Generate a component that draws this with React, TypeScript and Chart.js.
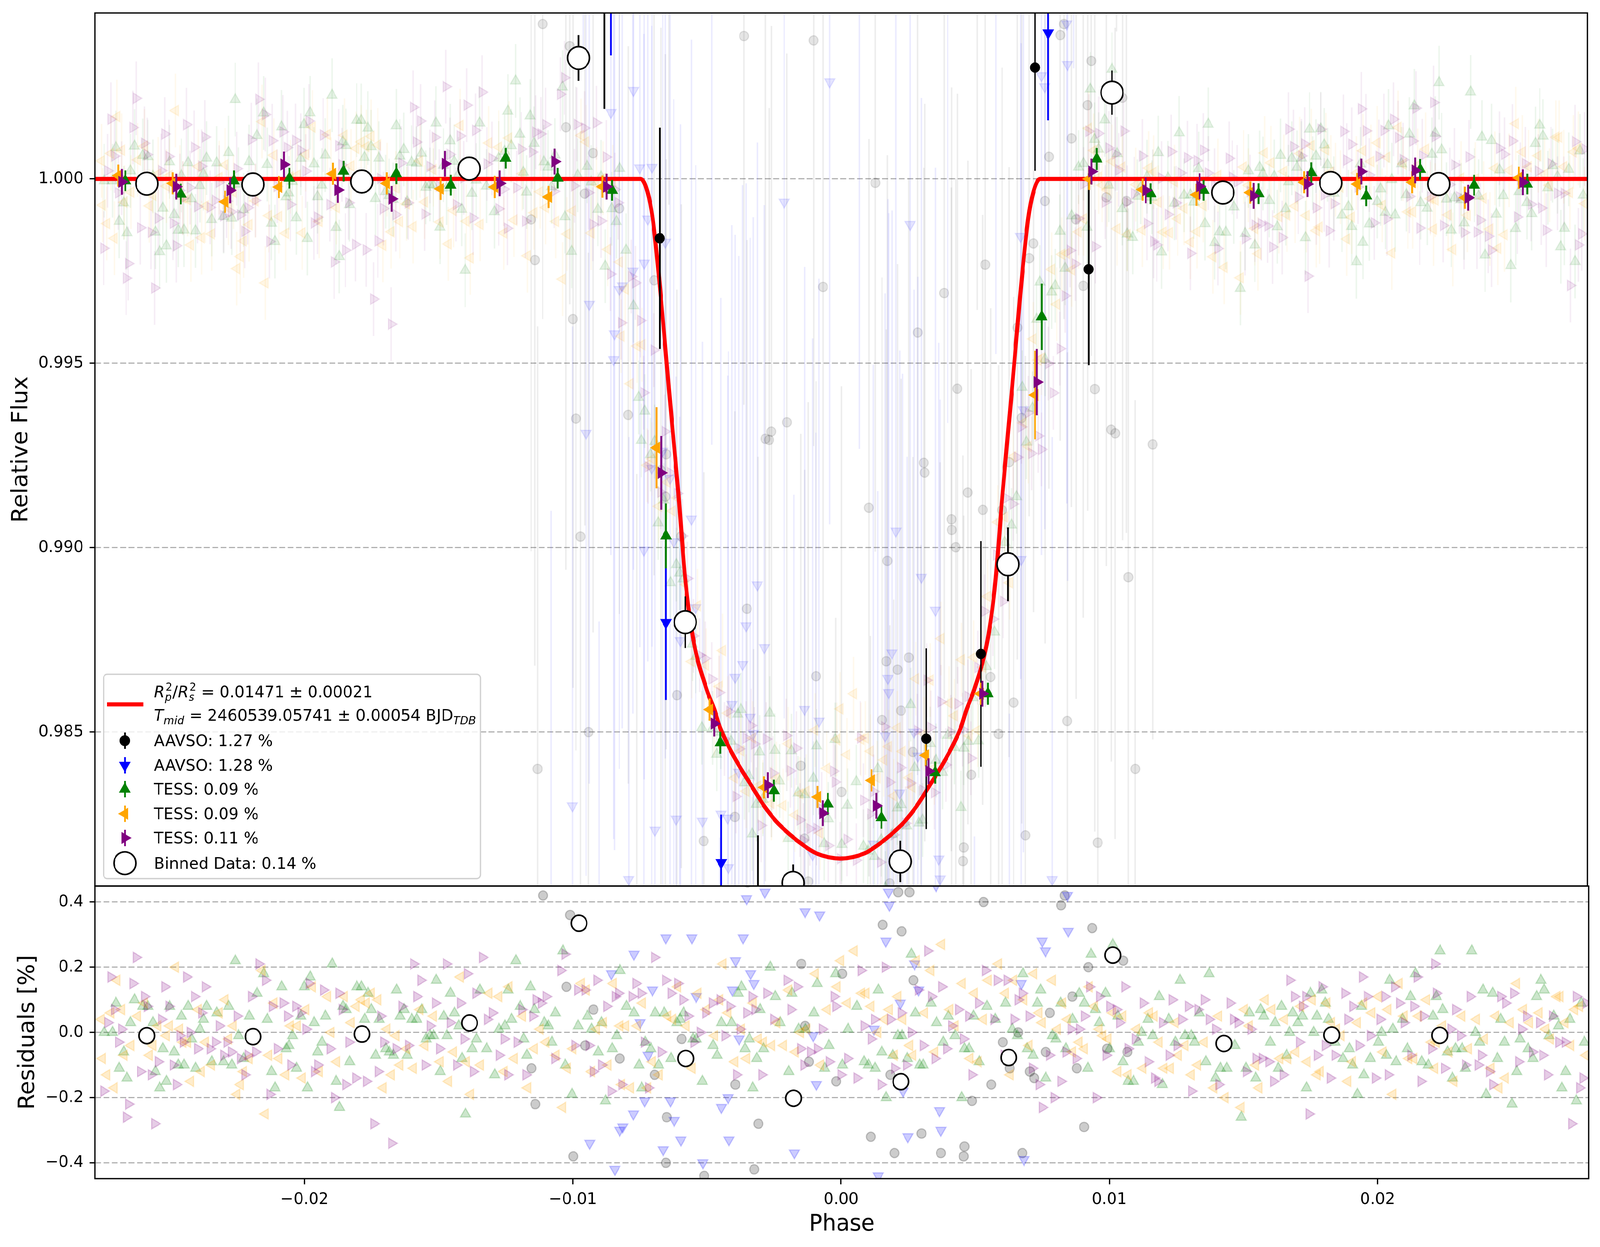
import React, { useEffect, useRef } from "react";
import { Chart, registerables } from "chart.js";

Chart.register(...registerables);

// ---- axes ----
const phaseTicks = [-0.02, -0.01, 0, 0.01, 0.02];
const fluxTicks = [0.985, 0.99, 0.995, 1.0];
const residTicks = [-0.4, -0.2, 0, 0.2, 0.4];
const phaseMin = -0.02781;
const phaseMax = 0.02787;
const fluxMin = 0.980825;
const fluxMax = 1.0045;
const residMin = -0.4484;
const residMax = 0.449;

// ---- fitted transit model (phase, relative flux) ----
const modelPhase = [
  -0.0278, -0.00745, -0.0072, -0.007, -0.0067, -0.0064, -0.00605, -0.00578, -0.0055, -0.005, -0.0047,
  -0.0045, -0.0042, -0.0038, -0.0033, -0.00285, -0.0024, -0.0019, -0.0014, -0.0009, 0, 0.0009, 0.0014,
  0.0019, 0.0024, 0.00285, 0.0033, 0.0038, 0.0042, 0.0045, 0.0047, 0.005, 0.0055, 0.00578, 0.00605,
  0.0064, 0.0067, 0.007, 0.0072, 0.00745, 0.0279,
];
const modelFlux = [
  1.0, 1.0, 0.99965, 0.9989, 0.9968, 0.9943, 0.9915, 0.98907, 0.98755, 0.98617, 0.9856, 0.98514, 0.98465,
  0.98411, 0.98352, 0.983, 0.98258, 0.98223, 0.98194, 0.98171, 0.98157, 0.98171, 0.98194, 0.98223, 0.98258,
  0.983, 0.98352, 0.98411, 0.98465, 0.98514, 0.9856, 0.98617, 0.98755, 0.98907, 0.9915, 0.9943, 0.9968,
  0.9989, 0.99965, 1.0, 1.0,
];

// ---- per-dataset binned points [phase, flux, error] ----
const aavsoBlackBin = [
  [-0.00881, 1.0052, 0.0033], [-0.00674, 0.99839, 0.003], [-0.00308, 0.9797, 0.0025],
  [0.0032, 0.98482, 0.00245], [0.00524, 0.98712, 0.00306], [0.00726, 1.00302, 0.0028], [0.00926, 0.99755, 0.0026],
];
const aavsoBlueBin = [
  [-0.00856, 1.006, 0.00265], [-0.00651, 0.98797, 0.0021], [-0.00445, 0.98146, 0.0013], [0.00775, 1.00396, 0.00237],
];
const tessGreenBin = [
  [-0.02668, 0.99995, 0.00028], [-0.02461, 0.99959, 0.00028], [-0.02263, 0.99995, 0.00028], [-0.02056, 1.00002, 0.00028],
  [-0.01854, 1.00021, 0.00028], [-0.01657, 1.00014, 0.00028], [-0.01454, 0.99983, 0.00028], [-0.01249, 1.00056, 0.00028],
  [-0.01055, 1.00002, 0.00028], [-0.00852, 0.99969, 0.00028], [-0.00651, 0.99032, 0.00088], [-0.00448, 0.98471, 0.0003],
  [-0.00248, 0.98341, 0.0003], [-0.00047, 0.98305, 0.0003], [0.00153, 0.98268, 0.0003], [0.00353, 0.9839, 0.0003],
  [0.0055, 0.98604, 0.0003], [0.00751, 0.99626, 0.0009], [0.00956, 1.00054, 0.0003], [0.01157, 0.9996, 0.00028],
  [0.01355, 0.99969, 0.00028], [0.0156, 0.9996, 0.00028], [0.01757, 1.00017, 0.00028], [0.01962, 0.99954, 0.00028],
  [0.02163, 1.00026, 0.00028], [0.02364, 0.99983, 0.00028], [0.02562, 0.99986, 0.00028],
];
const tessOrangeBin = [
  [-0.02694, 1.00009, 0.0003], [-0.02491, 0.99988, 0.0003], [-0.02296, 0.99938, 0.0003], [-0.02095, 0.99978, 0.0003],
  [-0.01894, 1.00014, 0.0003], [-0.01693, 0.99988, 0.0003], [-0.01492, 0.99973, 0.0003], [-0.0129, 0.99978, 0.0003],
  [-0.01089, 0.99951, 0.0003], [-0.00888, 0.99979, 0.0003], [-0.00686, 0.99271, 0.0011], [-0.00488, 0.98561, 0.0003],
  [-0.00285, 0.9835, 0.0003], [-0.00085, 0.98324, 0.0003], [0.00116, 0.98369, 0.0003], [0.00318, 0.98437, 0.0003],
  [0.00523, 0.98604, 0.0003], [0.00726, 0.99414, 0.0012], [0.00927, 1.0, 0.0003], [0.01127, 0.99971, 0.0003],
  [0.01328, 0.99957, 0.0003], [0.01529, 0.99963, 0.0003], [0.0173, 0.99991, 0.0003], [0.01928, 0.99986, 0.0003],
  [0.02133, 0.99991, 0.0003], [0.0233, 0.99949, 0.0003], [0.02531, 1.00003, 0.0003],
];
const tessPurpleBin = [
  [-0.02681, 0.99992, 0.00035], [-0.02478, 0.99979, 0.00035], [-0.02277, 0.99969, 0.00035], [-0.02076, 1.00039, 0.00035],
  [-0.01875, 0.9997, 0.00035], [-0.01674, 0.99946, 0.00035], [-0.01475, 1.00041, 0.00035], [-0.01271, 0.99988, 0.00035],
  [-0.01066, 1.00047, 0.00035], [-0.00873, 0.99979, 0.00035], [-0.00669, 0.99203, 0.001], [-0.00471, 0.98523, 0.00035],
  [-0.00271, 0.98356, 0.00035], [-0.00066, 0.9828, 0.00035], [0.00134, 0.983, 0.00035], [0.00329, 0.98394, 0.00035],
  [0.0053, 0.98604, 0.00035], [0.00733, 0.99449, 0.0009], [0.00937, 1.0002, 0.00035], [0.01139, 0.99969, 0.00035],
  [0.0134, 0.9998, 0.00035], [0.01541, 0.99954, 0.00035], [0.01742, 0.99986, 0.00035], [0.01943, 1.0002, 0.00035],
  [0.02144, 1.00023, 0.00035], [0.02342, 0.99949, 0.00035], [0.02546, 0.99991, 0.00035],
];

// ---- all-data bins ----
const binnedPhase = [-0.02588, -0.02192, -0.01786, -0.01385, -0.00977, -0.00579, -0.00177, 0.00223, 0.00625, 0.01013, 0.01427, 0.01829, 0.02232];
const binnedFlux = [0.99987, 0.99985, 0.99993, 1.00028, 1.00328, 0.98798, 0.98091, 0.98149, 0.98955, 1.00234, 0.99963, 0.99989, 0.99986];
const binnedErr = [0.0001, 0.0001, 0.0001, 0.0001, 0.00062, 0.0007, 0.0005, 0.00056, 0.001, 0.0006, 0.0001, 0.0001, 0.0001];
const binnedResid = [-0.01, -0.013, -0.005, 0.029, 0.335, -0.08, -0.202, -0.151, -0.077, 0.237, -0.034, -0.008, -0.009];

// ---- raw TESS residuals [phase x 1e4, residual %] ----
const tessRawErr = 0.1; // % per point
const tessGreenRes = [
  [-274.7,0.00],[-271.6,0.00],[-270.3,0.09],[-269.1,-0.11],[-267.4,-0.06],[-266.2,-0.14],[-264.9,0.03],[-263.4,0.10],[-260.3,0.08],[-258.4,0.08],
  [-256.5,0.03],[-255.6,-0.12],[-254.0,-0.17],[-252.8,-0.05],[-251.5,-0.15],[-250.3,0.08],[-248.6,-0.06],[-247.1,-0.10],[-245.9,0.05],[-244.9,-0.10],
  [-243.4,0.08],[-242.1,-0.02],[-240.6,-0.11],[-239.0,0.01],[-237.7,0.04],[-236.5,0.08],[-234.6,-0.09],[-232.7,0.06],[-230.2,-0.09],[-228.3,0.08],
  [-227.1,-0.10],[-225.8,0.22],[-224.6,-0.01],[-222.7,-0.08],[-220.6,0.05],[-217.7,0.12],[-215.2,0.18],[-213.9,0.04],[-212.3,-0.12],[-211.0,-0.17],
  [-208.5,0.14],[-206.8,-0.05],[-205.8,-0.04],[-204.5,-0.01],[-203.0,-0.11],[-201.4,0.05],[-200.1,0.14],[-198.9,-0.17],[-197.9,0.17],[-196.4,0.03],
  [-195.1,-0.06],[-193.5,-0.03],[-192.2,0.05],[-189.7,0.21],[-188.2,-0.15],[-187.0,-0.23],[-185.7,0.08],[-184.5,0.07],[-183.2,-0.09],[-180.5,0.14],
  [-178.8,0.14],[-177.6,0.04],[-176.3,0.12],[-175.1,0.07],[-173.5,-0.07],[-172.2,0.04],[-169.7,-0.05],[-168.4,-0.06],[-166.9,-0.07],[-165.7,0.13],
  [-164.4,0.05],[-162.9,0.07],[-161.7,-0.07],[-160.0,0.04],[-158.2,0.04],[-156.3,0.07],[-154.7,-0.02],[-153.2,-0.01],[-151.9,-0.01],[-150.9,0.16],
  [-149.4,-0.12],[-148.1,0.05],[-146.9,-0.01],[-145.6,0.12],[-144.1,0.06],[-142.5,0.02],[-141.3,-0.08],[-140.0,-0.25],[-137.5,-0.05],[-135.9,-0.02],
  [-134.6,0.13],[-132.1,-0.05],[-129.1,-0.13],[-127.5,0.01],[-125.3,0.02],[-124.1,0.13],[-122.8,0.04],[-121.2,0.22],[-119.6,0.08],[-118.3,-0.02],
  [-117.1,-0.07],[-115.8,0.14],[-114.3,0.07],[-110.6,0.03],[-109.1,0.02],[-107.8,-0.03],[-106.5,0.06],[-103.7,0.25],[-102.8,-0.10],[-100.3,-0.19],
  [-98.0,0.02],[-94.5,0.05],[-93.0,0.01],[-90.5,-0.06],[-89.3,0.03],[-87.8,-0.21],[-85.3,-0.05],[-83.6,-0.01],[-82.4,0.19],
  [-80.0,0.08],[-77.2,0.06],[-75.3,-0.10],[-74.3,-0.17],[-73.0,-0.03],[-70.9,-0.05],[-69.3,0.06],[-68.0,-0.10],[-65.9,0.06],[-63.4,-0.08],
  [-61.2,0.03],[-60.0,0.04],[-58.7,0.06],[-55.2,-0.02],[-54.0,-0.02],[-51.7,-0.15],[-47.7,-0.04],[-46.2,-0.07],[-44.6,0.03],[-40.8,0.03],
  [-38.3,0.12],[-37.1,0.14],[-35.8,-0.05],[-34.2,-0.02],[-32.9,-0.17],[-31.4,-0.08],[-30.2,0.07],[-28.9,-0.05],[-26.4,0.20],[-24.5,0.11],
  [-22.7,0.03],[-19.5,-0.12],[-18.3,0.12],[-15.8,0.01],[-13.3,0.01],[-10.1,0.06],[-8.9,0.15],[-6.1,-0.11],[-4.5,-0.04],[-2.0,0.18],
  [0.5,-0.10],[2.6,0.01],[5.9,0.08],[8.6,-0.09],[10.2,-0.10],[12.7,-0.11],[13.9,0.13],[15.2,-0.06],[16.8,-0.20],[19.3,-0.07],
  [21.2,-0.01],[22.7,-0.01],[24.7,-0.08],[26.2,0.24],[27.7,0.06],[29.3,-0.10],[30.6,-0.10],[33.5,0.09],[35.6,0.03],[38.1,-0.03],
  [40.0,0.05],[42.5,-0.01],[45.0,-0.20],[46.0,-0.05],[47.7,-0.05],[49.4,0.05],[51.5,-0.09],[54.4,0.08],[57.5,0.04],[61.3,0.09],
  [63.8,0.01],[65.7,-0.01],[67.8,0.18],[69.4,-0.05],[71.6,-0.07],[73.2,0.09],[74.4,0.13],[76.3,-0.14],[78.8,-0.01],[80.1,-0.02],
  [81.9,0.09],[83.8,-0.05],[86.3,0.04],[88.8,0.12],[90.7,0.09],[92.0,-0.11],[93.2,0.24],[94.8,0.07],[96.3,0.03],[98.6,0.12],
  [100.1,-0.05],[101.3,0.27],[103.2,0.05],[105.1,-0.09],[107.0,-0.15],
  [109.0,-0.15],[110.8,-0.03],[112.0,0.00],[114.4,0.04],[116.2,-0.01],[118.6,0.11],[119.8,-0.16],[122.2,0.04],[124.6,-0.03],[126.4,0.16],
  [128.2,-0.01],[130.6,-0.01],[131.8,-0.03],[133.6,0.06],[136.0,-0.09],[137.2,0.18],[139.6,-0.14],[141.4,-0.11],[143.8,-0.11],[146.8,-0.04],
  [149.2,-0.26],[151.0,-0.11],[152.2,0.06],[154.6,-0.14],[156.4,0.07],[157.6,0.05],[160.0,-0.03],[161.8,0.03],[163.0,-0.11],[164.2,0.08],
  [166.1,-0.07],[167.2,0.00],[168.4,0.06],[170.3,0.03],[172.0,0.05],[173.5,-0.17],[175.0,0.12],[176.2,0.00],[177.4,0.05],[179.2,0.13],
  [180.5,0.09],[181.7,0.04],[184.1,-0.03],[187.1,-0.08],[189.5,-0.05],[190.7,-0.10],[192.5,-0.19],[194.0,0.08],[194.9,-0.13],[197.3,-0.08],
  [200.3,-0.03],[201.5,0.00],[203.3,-0.07],[204.5,0.16],[205.7,0.01],[206.9,-0.09],[209.3,0.04],[211.1,-0.05],[212.3,0.11],[214.1,0.18],
  [216.5,-0.09],[218.9,-0.10],[220.7,0.05],[221.9,0.11],[223.3,0.25],[224.3,0.07],[226.1,-0.06],[227.9,-0.14],[229.1,-0.05],[231.5,-0.05],
  [232.7,-0.11],[235.1,0.25],[236.5,0.00],[238.1,-0.03],[239.3,0.13],[240.5,-0.19],[242.9,0.12],[244.7,-0.08],[245.9,0.04],[247.3,-0.03],
  [250.1,-0.22],[251.9,-0.12],[253.1,-0.02],[256.1,-0.05],[257.9,-0.08],[259.3,0.11],[260.9,0.16],[262.1,0.13],[263.9,-0.01],[265.7,0.05],
  [267.5,0.02],[268.7,-0.17],[270.1,-0.12],[271.7,0.04],[274.1,-0.21],[275.9,0.09],[277.1,-0.03],
];
const tessOrangeRes = [
  [-275.7,0.04],[-275.3,-0.08],[-273.7,-0.13],[-272.2,0.06],[-270.9,-0.17],[-269.9,0.16],[-268.2,0.07],[-267.2,-0.07],[-264.7,-0.04],[-262.2,0.05],
  [-259.7,0.09],[-257.8,-0.07],[-256.5,-0.04],[-254.6,0.02],[-251.5,-0.01],[-250.3,0.02],[-248.1,0.20],[-246.5,0.01],[-245.3,-0.03],[-243.6,-0.03],
  [-242.4,-0.15],[-239.6,0.07],[-238.4,-0.12],[-236.9,-0.03],[-234.6,-0.10],[-231.8,0.06],[-229.6,0.10],[-228.3,-0.02],[-226.5,0.02],[-225.2,-0.19],
  [-223.9,-0.16],[-222.7,-0.12],[-220.6,-0.08],[-218.3,-0.02],[-215.8,0.19],[-214.6,-0.25],[-213.3,-0.07],[-211.4,0.09],[-209.5,-0.08],[-207.0,-0.13],
  [-205.2,0.02],[-202.7,0.02],[-200.8,-0.14],[-199.5,0.07],[-197.0,0.14],[-194.5,-0.12],[-191.4,0.11],[-190.1,0.00],[-188.0,-0.09],[-185.1,0.11],
  [-182.6,0.03],[-180.7,0.08],[-178.8,0.10],[-176.9,0.09],[-175.1,0.12],[-172.6,0.10],[-170.7,-0.17],[-169.2,0.01],[-167.6,-0.13],[-165.9,-0.01],
  [-164.4,-0.10],[-161.9,-0.05],[-159.4,-0.11],[-156.9,0.07],[-155.1,-0.04],[-151.9,0.05],[-149.4,-0.09],[-146.3,-0.15],[-144.4,-0.06],[-141.9,0.17],
  [-139.6,-0.09],[-138.1,-0.19],[-134.4,-0.10],[-131.2,0.12],[-127.5,0.11],[-125.6,-0.12],[-123.7,0.14],[-121.8,-0.08],[-118.7,0.05],[-116.8,-0.17],
  [-114.3,-0.05],[-112.1,0.01],[-110.0,-0.03],[-106.2,-0.07],[-103.7,-0.23],[-102.0,-0.11],[-99.9,-0.05],[-96.8,0.15],[-94.9,0.13],[-93.0,-0.12],
  [-91.1,0.01],[-88.6,0.03],[-86.8,-0.10],[-84.9,0.15],[-82.4,0.02],[-81.8,-0.16],
  [-80.3,0.02],[-78.4,-0.17],[-75.9,0.02],[-74.0,0.09],[-72.1,-0.17],[-70.3,-0.09],[-67.8,-0.13],[-64.6,0.05],[-62.7,0.04],[-60.9,0.14],
  [-57.7,0.02],[-55.5,-0.11],[-53.3,0.12],[-50.2,0.07],[-47.1,-0.01],[-45.2,0.10],[-44.0,0.21],[-42.1,0.06],[-39.6,-0.09],[-37.1,0.01],
  [-35.2,-0.08],[-32.7,0.09],[-30.8,-0.02],[-28.9,-0.03],[-25.8,-0.04],[-23.9,0.03],[-21.4,-0.04],[-19.5,0.13],[-17.0,-0.06],[-15.1,0.00],
  [-12.7,0.01],[-9.5,0.18],[-7.6,-0.10],[-5.1,0.07],[-1.4,0.14],[-0.1,0.22],[2.4,0.09],[4.9,0.25],[7.7,0.12],[9.3,0.12],
  [11.2,0.08],[13.7,0.00],[16.2,0.04],[18.0,0.07],[19.9,-0.07],[21.2,0.11],[23.1,0.04],[25.6,-0.04],[26.8,-0.07],[28.1,0.22],
  [31.2,0.06],[33.5,0.19],[35.0,-0.06],[37.5,0.27],[40.6,0.07],[42.5,0.02],[45.2,0.15],[48.1,-0.08],[49.7,0.12],[51.2,-0.09],
  [53.1,0.04],[54.9,0.16],[58.7,0.21],[61.3,0.12],[63.1,-0.13],[64.4,0.16],[68.2,0.10],[70.1,-0.04],[71.9,0.18],[73.8,0.06],
  [75.0,0.03],[78.8,0.16],[80.7,0.01],[82.6,0.09],[84.4,0.04],[86.3,-0.06],[88.8,-0.03],[90.7,-0.05],[92.6,0.14],[94.5,0.08],
  [96.3,0.01],[97.6,-0.01],[99.5,-0.02],[101.3,0.06],[103.2,-0.12],[105.1,0.05],[107.0,-0.13],
  [110.2,0.01],[112.6,-0.11],[115.0,0.06],[116.8,0.05],[118.6,-0.03],[120.4,-0.11],[122.8,-0.11],[124.6,0.03],[125.8,-0.07],[128.2,-0.04],
  [130.6,-0.13],[133.0,-0.10],[135.4,-0.03],[139.0,-0.17],[140.8,0.05],[143.2,-0.20],[149.2,-0.23],[150.4,0.07],[152.2,0.02],[154.6,-0.10],
  [155.8,-0.17],[158.2,0.10],[160.6,0.07],[163.6,-0.08],[165.4,0.04],[166.6,-0.08],[169.6,-0.06],[171.4,0.08],[173.8,-0.09],[175.7,0.10],
  [177.5,-0.13],[178.7,-0.12],[181.1,0.09],[182.9,0.03],[184.7,0.01],[186.5,-0.01],[188.9,-0.15],[190.7,-0.09],[192.5,0.03],[194.9,0.09],
  [197.9,0.06],[200.3,0.11],[202.1,-0.06],[203.9,0.07],[205.7,-0.19],[208.1,0.15],[209.9,0.05],[211.7,-0.08],[213.5,-0.08],[215.3,0.05],
  [218.3,0.10],[220.1,-0.03],[221.3,-0.11],[221.9,-0.03],[224.3,0.02],[226.7,-0.06],[228.5,-0.15],[231.5,0.05],[233.9,-0.05],[236.9,0.04],
  [239.9,-0.02],[242.3,-0.11],[244.1,0.05],[245.3,-0.17],[247.7,-0.14],[249.5,0.03],[251.9,0.15],[254.4,0.07],[256.7,0.03],[260.3,0.06],
  [262.7,0.01],[264.5,-0.02],[266.9,0.11],[268.1,0.11],[269.9,0.03],[272.1,-0.04],[273.5,0.07],[275.3,0.08],[277.7,-0.07],
];
const tessPurpleRes = [
  [-274.9,-0.18],[-273.4,0.03],[-272.2,0.17],[-270.9,0.07],[-269.4,-0.03],[-268.2,0.01],[-266.5,-0.26],[-265.7,-0.22],[-264.0,0.15],[-262.8,0.23],
  [-261.2,-0.12],[-259.7,0.11],[-258.7,0.08],[-257.2,-0.13],[-255.9,-0.28],[-254.6,-0.09],[-253.4,0.04],[-252.1,0.14],[-250.6,0.08],[-249.0,-0.10],
  [-247.8,-0.16],[-246.5,-0.01],[-245.3,-0.03],[-244.0,0.17],[-242.7,0.00],[-241.1,0.11],[-239.9,-0.05],[-238.4,0.06],[-237.1,0.14],[-235.2,-0.05],
  [-233.3,-0.03],[-231.8,0.02],[-230.2,-0.07],[-229.0,-0.03],[-227.3,-0.06],[-225.2,0.05],[-223.9,-0.08],[-222.3,-0.13],[-221.1,-0.07],[-219.8,0.11],
  [-218.3,-0.06],[-217.1,0.21],[-214.6,0.16],[-213.0,-0.19],[-212.0,0.08],[-210.2,-0.05],[-208.0,0.09],[-206.4,0.05],[-205.2,-0.10],[-203.3,0.08],
  [-201.4,0.06],[-199.5,0.01],[-198.3,0.15],[-196.4,-0.12],[-195.1,-0.10],[-193.0,0.13],[-190.5,-0.05],[-188.9,-0.20],[-187.2,0.12],[-186.0,0.07],
  [-184.7,-0.16],[-183.5,-0.03],[-181.0,-0.14],[-177.0,-0.15],[-174.2,-0.28],[-172.6,-0.12],[-171.7,0.05],[-170.5,-0.03],[-167.6,-0.34],[-165.9,-0.05],
  [-163.8,0.08],[-161.3,-0.04],[-159.4,0.21],[-158.2,0.11],[-156.7,0.16],[-155.1,-0.10],[-153.2,0.02],[-151.3,0.09],[-149.7,-0.05],[-147.2,0.21],
  [-145.7,0.03],[-143.4,-0.10],[-141.9,0.09],[-140.6,-0.02],[-139.4,0.18],[-137.1,-0.12],[-136.2,0.12],[-133.7,0.23],[-131.9,0.04],[-130.0,0.06],
  [-127.5,-0.07],[-125.6,-0.02],[-124.3,-0.13],[-120.8,-0.03],[-119.1,0.07],[-117.5,-0.13],[-115.0,0.05],[-113.7,0.10],[-111.8,0.09],[-110.0,0.11],
  [-106.8,-0.08],[-104.5,0.19],[-103.0,0.24],[-99.3,-0.04],[-98.3,0.13],[-95.5,0.13],[-94.0,-0.04],[-92.4,-0.12],[-91.1,0.16],[-89.3,-0.10],
  [-87.4,0.08],[-85.8,-0.18],[-84.2,0.11],[-83.0,0.12],[-81.8,-0.16],
  [-78.0,0.11],[-76.5,0.15],[-74.6,0.12],[-73.4,-0.03],[-71.8,-0.17],[-69.6,0.23],[-67.1,-0.06],[-65.5,0.16],[-63.4,0.12],[-60.9,0.15],
  [-59.0,0.10],[-57.1,0.05],[-54.9,-0.03],[-52.5,0.00],[-50.5,0.06],[-48.0,0.09],[-45.2,0.10],[-43.3,-0.01],[-41.5,0.08],[-39.0,-0.13],
  [-37.7,0.01],[-35.2,0.06],[-33.3,0.11],[-32.1,0.07],[-29.6,-0.13],[-27.7,0.12],[-25.2,0.04],[-20.2,0.16],[-18.7,0.07],[-16.4,0.14],
  [-15.1,-0.05],[-13.9,-0.10],[-11.4,-0.06],[-8.9,-0.05],[-7.0,0.01],[-4.5,-0.09],[-2.6,0.11],[-2.0,0.08],[-0.1,-0.13],[2.4,-0.08],
  [5.9,-0.14],[7.4,0.19],[8.6,0.02],[11.2,-0.02],[12.4,0.04],[14.9,-0.16],[16.4,0.20],[18.4,0.04],[19.9,-0.11],[22.4,0.06],
  [24.3,-0.10],[26.2,0.00],[28.7,0.13],[30.6,-0.04],[32.2,0.25],[33.7,0.11],[35.0,-0.08],[37.5,0.14],[39.3,-0.05],[41.2,0.02],
  [43.7,0.07],[45.6,-0.02],[47.5,0.05],[48.7,-0.13],[51.2,0.09],[53.8,0.19],[56.9,0.04],[58.2,0.16],[60.7,-0.07],[61.9,0.16],
  [64.4,0.04],[66.0,0.10],[67.5,0.12],[70.1,0.05],[71.3,-0.11],[73.8,-0.16],[75.0,-0.23],[77.6,-0.07],[79.4,-0.20],[81.9,-0.15],
  [83.8,-0.06],[85.7,0.01],[87.6,-0.08],[88.8,0.01],[90.7,0.05],[92.6,0.14],[95.1,-0.20],[96.3,0.11],[98.8,-0.07],[100.1,0.08],
  [102.6,0.07],[103.8,0.03],[105.7,0.14],[107.0,-0.05],
  [109.6,-0.02],[112.6,0.09],[114.4,-0.09],[116.8,-0.14],[118.0,-0.15],[119.8,0.03],[122.2,-0.07],[123.4,0.10],[125.2,-0.04],[127.0,0.04],
  [129.4,0.08],[130.6,-0.18],[133.0,0.07],[135.4,0.10],[137.2,0.04],[139.6,0.01],[140.8,-0.16],[145.0,0.09],[146.2,0.04],[148.0,0.03],
  [151.0,-0.12],[152.8,0.01],[154.6,-0.08],[157.0,-0.08],[159.4,-0.09],[161.2,-0.15],[164.8,-0.13],[167.2,0.16],[169.0,0.11],[170.8,-0.03],
  [172.0,0.08],[173.2,0.11],[174.4,-0.25],[177.5,-0.07],[179.2,0.14],[180.5,-0.04],[182.3,-0.14],[184.1,-0.07],[187.7,0.12],[188.9,0.04],
  [190.7,0.08],[193.1,-0.04],[194.3,0.17],[196.1,0.11],[197.3,-0.01],[199.1,-0.14],[200.9,0.04],[202.7,0.11],[203.9,-0.13],[206.3,0.14],
  [208.1,0.09],[209.9,0.03],[212.3,-0.07],[213.5,0.08],[214.7,0.17],[216.1,-0.15],[217.1,0.05],[220.1,-0.05],[221.3,0.21],[221.9,0.12],
  [224.9,-0.11],[227.3,0.01],[229.1,0.07],[230.9,-0.01],[232.7,-0.10],[234.5,0.11],[237.5,-0.10],[238.7,-0.07],[241.7,-0.12],[242.9,-0.16],
  [245.9,0.11],[247.7,0.09],[250.7,0.12],[252.5,-0.09],[253.7,0.01],[255.5,0.05],[257.7,-0.06],[260.3,0.03],[261.5,-0.07],[263.3,-0.13],
  [265.1,0.05],[267.5,-0.03],[269.9,-0.03],[272.3,-0.28],[274.1,0.11],[275.3,-0.17],[276.5,-0.14],[277.7,0.09],
];

// ---- raw AAVSO residuals [phase x 1e4, residual %, error %] ----
const aavsoBlackRes = [
  [-115.4,-0.11,0.9],[-114.0,-0.22,1.1],[-111.1,0.42,0.8],[-102.4,0.14,1.2],[-101.0,0.36,0.7],[-99.8,-0.38,1.0],[-95.4,-0.04,0.9],
  [-92.3,0.07,1.3],[-82.5,-0.08,1.1],[-69.5,-0.13,0.8],[-65.3,-0.40,1.2],[-59.4,-0.02,0.9],[-51.0,-0.44,1.0],[-39.4,-0.16,1.1],
  [-32.4,-0.42,0.8],[-30.8,-0.28,1.2],[-14.8,0.21,0.9],[-13.4,0.02,1.0],[-12.0,-0.09,1.3],[-1.8,-0.15,0.8],[0.4,0.18,1.1],
  [11.1,-0.32,0.9],[15.5,0.33,1.2],[18.4,-0.13,0.7],[19.9,-0.37,1.0],[21.3,0.43,1.1],[22.6,0.31,0.9],[25.5,0.43,1.3],
  [27.0,0.16,0.8],[30.0,-0.31,1.0],[37.2,-0.37,1.2],[46.0,-0.35,0.9],[48.8,-0.21,1.1],[53.1,0.40,0.8],[56.0,-0.16,1.0],
  [60.3,-0.03,1.2],[66.0,0.00,0.9],[67.6,-0.37,1.1],[70.4,-0.12,0.7],[72.0,-0.14,1.0],[76.3,-0.06,1.2],[77.8,0.06,0.9],
  [82.0,0.39,1.1],[83.4,0.42,0.8],[86.2,0.11,1.0],[87.9,-0.11,1.3],[90.6,-0.29,0.9],[92.2,0.20,1.1],[93.6,0.32,0.8],
  [99.2,-0.05,1.0],[105.2,0.22,1.2],[106.7,-0.06,0.9],
  [-97.0,-0.97,1.1],[-98.7,-0.65,0.9],[-79.2,-0.64,1.0],[-67.0,-0.47,1.2],[-65.0,-0.26,0.8],[-61.0,-0.59,1.1],[-34.9,0.46,1.0],
  [-28.0,1.00,1.2],[-26.6,1.01,0.9],[-25.8,1.04,1.1],[-20.0,1.11,1.0],[-9.1,0.48,0.8],[-6.5,1.54,1.3],[10.6,0.93,1.0],
  [17.1,0.48,0.9],[17.5,0.75,1.1],[28.8,1.28,1.2],[31.1,0.90,0.8],[31.4,0.87,1.0],[38.7,1.27,1.1],[41.4,0.62,0.9],
  [41.5,0.59,1.2],[43.0,0.52,1.0],[43.6,0.94,0.8],[45.7,-0.38,1.1],[47.5,0.58,0.9],[54.0,1.04,1.2],[59.0,-0.52,1.0],
  [62.9,-0.11,0.8],[64.6,-0.90,1.1],[84.6,-1.47,1.0],[94.9,-0.57,1.2],[101.0,-0.68,0.9],[102.5,-0.69,1.1],[107.4,-1.08,1.0],
  [116.5,-0.72,0.8],
  [-113.0,-1.6,1.2],[-106.0,1.9,1.1],[-94.0,-1.5,1.3],[-87.0,1.7,1.0],[-76.0,-2.0,1.2],[-64.0,1.6,1.1],[-47.0,-1.8,1.3],
  [-36.0,2.0,1.0],[-22.0,-1.7,1.2],[-10.0,2.2,1.1],[4.0,-2.1,1.3],[13.0,1.8,1.0],[35.0,-1.9,1.2],[51.0,2.1,1.1],
  [69.0,-1.6,1.3],[80.0,1.7,1.0],[96.0,-1.8,1.2],[103.0,1.5,1.1],[110.0,-1.6,1.0],
];
const aavsoBlueRes = [
  [-93.7,-0.34,1.3],[-85.6,0.18,1.2],[-84.3,-0.42,1.4],[-82.5,-0.30,1.3],[-81.4,-0.29,1.2],[-77.2,0.24,1.3],[-73.2,-0.21,1.4],
  [-71.9,-0.07,1.2],[-70.3,0.13,1.3],[-62.2,-0.27,1.2],[-59.7,-0.33,1.4],[-55.6,0.29,1.3],[-54.0,0.11,1.2],[-51.5,-0.40,1.3],
  [-44.6,-0.23,1.4],[-42.1,-0.20,1.2],[-40.5,0.13,1.3],[-39.3,0.22,1.2],[-38.0,-0.02,1.4],[-36.5,0.29,1.3],[-35.2,0.41,1.2],
  [-33.7,0.18,1.3],[-32.5,0.15,1.4],[-28.4,0.43,1.2],[-17.4,-0.37,1.3],[-13.4,0.37,1.2],[-10.4,-0.01,1.4],[-9.2,-0.16,1.3],
  [-8.0,0.36,1.2],[12.3,0.01,1.3],[13.9,-0.44,1.4],[16.7,0.28,1.2],[18.0,0.39,1.3],[22.1,0.09,1.2],[23.1,-0.18,1.4],
  [24.9,-0.32,1.3],[27.4,0.21,1.2],[28.9,0.13,1.3],[36.7,-0.24,1.4],[67.2,0.15,1.2],[84.4,0.42,1.3],
  [-94.9,-0.69,1.2],[-84.6,-0.49,1.3],[-77.4,-0.25,1.2],[-74.9,0.03,1.3],[-73.3,-0.99,1.4],[-70.4,-0.69,1.2],[-69.2,-1.60,1.3],
  [-66.3,-0.36,1.2],[-65.3,0.29,1.4],[-63.6,-0.21,1.3],[-61.3,-0.95,1.2],[-60.0,-1.05,1.3],[-41.8,-0.33,1.4],[-31.0,0.57,1.2],
  [17.7,0.43,1.3],[19.2,0.49,1.2],[20.7,0.81,1.4],[30.2,0.60,1.3],[35.4,0.45,1.2],[37.2,-0.30,1.3],[67.4,-0.74,1.4],
  [68.2,-0.39,1.2],[75.0,0.28,1.3],[76.2,0.25,1.2],[84.7,0.31,1.4],
  [-112.0,1.8,1.3],[-108.0,-2.1,1.2],[-104.0,2.4,1.4],[-100.0,-1.7,1.3],[-96.0,1.5,1.2],[-90.0,-2.6,1.4],[-88.0,2.0,1.3],
  [-79.0,-1.9,1.2],[-67.0,2.2,1.3],[-57.0,-2.3,1.4],[-48.0,1.9,1.2],[-45.0,-1.6,1.3],[-26.0,-2.0,1.2],[-21.0,1.7,1.4],
  [-16.0,-2.4,1.3],[-4.0,2.1,1.2],[2.0,-1.8,1.3],[7.0,2.5,1.4],[9.0,-2.2,1.2],[26.0,1.6,1.3],[33.0,-2.0,1.2],
  [40.0,2.3,1.4],[50.0,-1.7,1.3],[58.0,1.8,1.2],[63.0,-2.1,1.3],[71.0,2.2,1.4],[79.0,-1.9,1.2],[87.0,1.6,1.3],
];

const legendLabels = ["AAVSO: 1.27 %", "AAVSO: 1.28 %", "TESS: 0.09 %", "TESS: 0.09 %", "TESS: 0.11 %", "Binned Data: 0.14 %"];

const FIG_W = 4242;
const FIG_H = 3192;
const SPLIT = 2268; // boundary between the two panels (page px)
const OVERLAP = 40;
const FONT = '"DejaVu Sans"';
const TICK = 41.7;
const LABEL = 58.3;

function interp(xs: number[], ys: number[], x: number) {
  const n = xs.length;
  if (x <= xs[0]) return ys[0];
  if (x >= xs[n - 1]) return ys[n - 1];
  let i = 1;
  while (xs[i] < x) i++;
  const t = (x - xs[i - 1]) / (xs[i] - xs[i - 1]);
  return ys[i - 1] + t * (ys[i] - ys[i - 1]);
}

const modelAt = (x: number) => interp(modelPhase, modelFlux, x);

const binPts = (bin: number[][]) => bin.map(([x, y, e]) => ({ x, y, yMin: y - e, yMax: y + e }));

const rawTess = (res: number[][], bin: number[][]) => {
  const bx = bin.map((b) => b[0]);
  const by = bin.map((b) => b[1]);
  return res.map(([p, r]) => {
    const x = p / 1e4;
    const y = interp(bx, by, x) + r / 100;
    return { x, y, yMin: y - tessRawErr / 100, yMax: y + tessRawErr / 100 };
  });
};

const rawAavso = (res: number[][]) =>
  res.map(([p, r, e]) => {
    const x = p / 1e4;
    const y = modelAt(x) + r / 100;
    return { x, y, yMin: y - e / 100, yMax: y + e / 100 };
  });

const residPts = (res: number[][]) => res.map((d) => ({ x: d[0] / 1e4, y: d[1] }));

const marker = (style: string, rot: number, r: number, fill: string, edge: string, bw: number) => ({
  type: "scatter",
  pointStyle: style,
  pointRotation: rot,
  pointRadius: r,
  pointBackgroundColor: fill,
  pointBorderColor: edge,
  pointBorderWidth: bw,
  showLine: false,
  clip: 0,
});

const rgba = (c: number[], a: number) => `rgba(${c[0]},${c[1]},${c[2]},${a})`;
const GREEN = [0, 128, 0];
const ORANGE = [255, 165, 0];
const PURPLE = [128, 0, 128];
const BLUE = [0, 0, 255];
const BLACK = [0, 0, 0];

// vertical error bars, drawn just below the markers of their dataset
const errorBarPlugin = {
  id: "errorBars",
  beforeDatasetDraw(chart: any, args: any) {
    const ds = chart.data.datasets[args.index];
    if (!ds.errColor) return;
    const { ctx, chartArea, scales } = chart;
    const xs = scales.x;
    const ys = scales.y;
    ctx.save();
    ctx.beginPath();
    ctx.rect(chartArea.left, chartArea.top, chartArea.right - chartArea.left, chartArea.bottom - chartArea.top);
    ctx.clip();
    ctx.strokeStyle = ds.errColor;
    ctx.lineWidth = ds.errWidth;
    for (const p of ds.data) {
      if (p.yMin == null) continue;
      const px = xs.getPixelForValue(p.x);
      ctx.beginPath();
      ctx.moveTo(px, ys.getPixelForValue(p.yMin));
      ctx.lineTo(px, ys.getPixelForValue(p.yMax));
      ctx.stroke();
    }
    ctx.restore();
  },
};

const framePlugin = {
  id: "frame",
  afterDatasetsDraw(chart: any) {
    const { ctx, chartArea: a } = chart;
    ctx.save();
    ctx.strokeStyle = "#000";
    ctx.lineWidth = 3.3;
    ctx.strokeRect(a.left, a.top, a.right - a.left, a.bottom - a.top);
    ctx.restore();
  },
};

function drawMark(ctx: CanvasRenderingContext2D, style: string, rot: number, x: number, y: number, r: number, fill: string, edge: string, bw: number) {
  ctx.beginPath();
  if (style === "circle") {
    ctx.arc(x, y, r, 0, Math.PI * 2);
  } else {
    const base = (rot * Math.PI) / 180;
    for (let k = 0; k < 3; k++) {
      const a = base + (k * 2 * Math.PI) / 3;
      const px = x + Math.sin(a) * r;
      const py = y - Math.cos(a) * r;
      if (k === 0) ctx.moveTo(px, py);
      else ctx.lineTo(px, py);
    }
    ctx.closePath();
  }
  ctx.fillStyle = fill;
  ctx.fill();
  ctx.lineWidth = bw;
  ctx.strokeStyle = edge;
  ctx.stroke();
}

type Run = { t: string; it?: boolean; sub?: string; sup?: string };

function drawRuns(ctx: CanvasRenderingContext2D, runs: Run[], x: number, baseline: number, size: number) {
  let cx = x;
  const small = size * 0.7;
  for (const r of runs) {
    ctx.font = `${r.it ? "italic " : ""}${size}px ${FONT}`;
    ctx.fillText(r.t, cx, baseline);
    const w = ctx.measureText(r.t).width;
    let extra = 0;
    if (r.sub) {
      ctx.font = `italic ${small}px ${FONT}`;
      ctx.fillText(r.sub, cx + w, baseline + size * 0.22);
      extra = Math.max(extra, ctx.measureText(r.sub).width);
    }
    if (r.sup) {
      ctx.font = `${small}px ${FONT}`;
      ctx.fillText(r.sup, cx + w + size * 0.04, baseline - size * 0.4);
      extra = Math.max(extra, ctx.measureText(r.sup).width + size * 0.04);
    }
    cx += w + extra;
  }
}

const legendPlugin = {
  id: "transitLegend",
  afterDraw(chart: any) {
    const ctx: CanvasRenderingContext2D = chart.ctx;
    const L = 274.5, T = 1726, R = 1274, B = 2249;
    ctx.save();
    ctx.beginPath();
    (ctx as any).roundRect(L, T, R - L, B - T, 10);
    ctx.fillStyle = "rgba(255,255,255,0.8)";
    ctx.fill();
    ctx.lineWidth = 3.3;
    ctx.strokeStyle = "#d0d0d0";
    ctx.stroke();

    ctx.strokeStyle = "#ff0000";
    ctx.lineWidth = 10.5;
    ctx.beginPath();
    ctx.moveTo(284, 1803);
    ctx.lineTo(380, 1803);
    ctx.stroke();

    ctx.fillStyle = "#000";
    ctx.textBaseline = "alphabetic";
    ctx.textAlign = "left";
    drawRuns(ctx, [
      { t: "R", it: true, sub: "p", sup: "2" },
      { t: "/" },
      { t: "R", it: true, sub: "s", sup: "2" },
      { t: " = 0.01471 \u00b1 0.00021" },
    ], 408, 1785, TICK);
    drawRuns(ctx, [
      { t: "T", it: true, sub: "mid" },
      { t: " = 2460539.05741 \u00b1 0.00054 BJD", sub: "TDB" },
    ], 408, 1845, TICK);

    const baselines = [1910, 1973, 2034, 2097, 2159, 2223.5];
    const handles = [
      { s: "circle", rot: 0, r: 13, fill: "#000", edge: "#000", c: "#000" },
      { s: "triangle", rot: 180, r: 16, fill: "#0000ff", edge: "#0000ff", c: "#0000ff" },
      { s: "triangle", rot: 0, r: 16, fill: "#008000", edge: "#008000", c: "#008000" },
      { s: "triangle", rot: -90, r: 16, fill: "#ffa500", edge: "#ffa500", c: "#ffa500" },
      { s: "triangle", rot: 90, r: 16, fill: "#800080", edge: "#800080", c: "#800080" },
      { s: "circle", rot: 0, r: 29, fill: "#ffffff", edge: "#000", c: "#000" },
    ];
    handles.forEach((h, i) => {
      const cy = baselines[i] - 14;
      ctx.strokeStyle = h.c;
      ctx.lineWidth = 4.5;
      ctx.beginPath();
      ctx.moveTo(331, cy - 21);
      ctx.lineTo(331, cy + 21);
      ctx.stroke();
      drawMark(ctx, h.s, h.rot, 331, cy, h.r, h.fill, h.edge, i === 5 ? 4.2 : 2);
      ctx.fillStyle = "#000";
      ctx.font = `${TICK}px ${FONT}`;
      ctx.fillText(legendLabels[i], 408, baselines[i]);
    });
    ctx.restore();
  },
};

const fmtSigned = (v: number, d: number) => (Math.abs(v) < 1e-12 ? (0).toFixed(d) : (v < 0 ? "\u2212" : "") + Math.abs(v).toFixed(d));

const yAxisCommon = (title: string, titlePad: number) => ({
  afterFit: (s: any) => {
    s.width = 252;
    s.paddingTop = 0;
    s.paddingBottom = 0;
  },
  grid: { color: "#b0b0b0", lineWidth: 3, tickColor: "#000", tickWidth: 3.3, tickLength: 14.6, tickBorderDash: [] },
  border: { display: false, dash: [15.5, 6.7] },
  title: { display: true, text: title, color: "#000", font: { size: LABEL, family: FONT, lineHeight: 1.2 }, padding: { top: titlePad, bottom: 0 } },
});

export default function App() {
  const wrapRef = useRef<HTMLDivElement>(null);
  const topRef = useRef<HTMLCanvasElement>(null);
  const botRef = useRef<HTMLCanvasElement>(null);

  useEffect(() => {
    document.documentElement.style.overflow = "hidden";
    document.body.style.margin = "0";
    document.body.style.overflow = "hidden";
    // fit the figure to the visible window
    const fit = () => {
      if (!wrapRef.current) return;
      const sx = window.innerWidth / FIG_W;
      const sy = window.innerHeight / FIG_H;
      wrapRef.current.style.transform = `scale(${sx}, ${sy})`;
    };
    fit();
    window.addEventListener("resize", fit);

    Chart.defaults.font.family = FONT;
    Chart.defaults.color = "#000";
    let top: Chart | null = null;
    let bot: Chart | null = null;

    const binAll = binnedPhase.map((x, i) => ({ x, y: binnedFlux[i], yMin: binnedFlux[i] - binnedErr[i], yMax: binnedFlux[i] + binnedErr[i] }));

    if (topRef.current) {
      top = new Chart(topRef.current, {
        type: "scatter",
        data: {
          datasets: [
            { data: binAll, ...marker("circle", 0, 29, "#ffffff", "#000000", 4.2), errColor: "#000", errWidth: 4.5, order: 0 },
            { data: binPts(tessPurpleBin), ...marker("triangle", 90, 16, "#800080", "#800080", 2), errColor: "#800080", errWidth: 5, order: 1 },
            { data: binPts(tessOrangeBin), ...marker("triangle", -90, 16, "#ffa500", "#ffa500", 2), errColor: "#ffa500", errWidth: 5, order: 2 },
            { data: binPts(tessGreenBin), ...marker("triangle", 0, 16, "#008000", "#008000", 2), errColor: "#008000", errWidth: 5, order: 3 },
            { data: binPts(aavsoBlueBin), ...marker("triangle", 180, 16, "#0000ff", "#0000ff", 2), errColor: "#0000ff", errWidth: 4.5, order: 4 },
            { data: binPts(aavsoBlackBin), ...marker("circle", 0, 13, "#000000", "#000000", 1), errColor: "#000", errWidth: 4.5, order: 5 },
            {
              type: "line",
              data: modelPhase.map((x, i) => ({ x, y: modelFlux[i] })),
              borderColor: "#ff0000",
              borderWidth: 10.5,
              pointRadius: 0,
              cubicInterpolationMode: "monotone",
              showLine: true,
              fill: false,
              clip: 0,
              order: 6,
            },
            { data: rawTess(tessPurpleRes, tessPurpleBin), ...marker("triangle", 90, 15.5, rgba(PURPLE, 0.1), rgba(PURPLE, 0.1), 3), errColor: rgba(PURPLE, 0.07), errWidth: 4, order: 7 },
            { data: rawTess(tessOrangeRes, tessOrangeBin), ...marker("triangle", -90, 15.5, rgba(ORANGE, 0.1), rgba(ORANGE, 0.1), 3), errColor: rgba(ORANGE, 0.07), errWidth: 4, order: 8 },
            { data: rawTess(tessGreenRes, tessGreenBin), ...marker("triangle", 0, 15.5, rgba(GREEN, 0.1), rgba(GREEN, 0.1), 3), errColor: rgba(GREEN, 0.07), errWidth: 4, order: 9 },
            { data: rawAavso(aavsoBlueRes), ...marker("triangle", 180, 15.5, rgba(BLUE, 0.1), rgba(BLUE, 0.1), 3), errColor: rgba(BLUE, 0.08), errWidth: 4, order: 10 },
            { data: rawAavso(aavsoBlackRes), ...marker("circle", 0, 12, rgba(BLACK, 0.1), rgba(BLACK, 0.1), 3), errColor: rgba(BLACK, 0.07), errWidth: 4, order: 11 },
          ] as any,
        },
        options: {
          responsive: false,
          animation: false,
          events: [],
          layout: { padding: { top: 28.5, right: 30, bottom: OVERLAP, left: 0 } },
          plugins: { legend: { display: false }, tooltip: { enabled: false } },
          scales: {
            x: { type: "linear", display: false, min: phaseMin, max: phaseMax },
            y: {
              type: "linear",
              min: fluxMin,
              max: fluxMax,
              afterBuildTicks: (s: any) => {
                s.ticks = fluxTicks.map((v) => ({ value: v }));
              },
              ticks: { callback: (v: any) => Number(v).toFixed(3), font: { size: TICK }, color: "#000", padding: 16, autoSkip: false },
              ...yAxisCommon("Relative Flux", 21.7),
            },
          },
        } as any,
        plugins: [errorBarPlugin, framePlugin, legendPlugin],
      });
    }

    if (botRef.current) {
      bot = new Chart(botRef.current, {
        type: "scatter",
        data: {
          datasets: [
            { data: binnedPhase.map((x, i) => ({ x, y: binnedResid[i] })), ...marker("circle", 0, 20.5, "#ffffff", "#000000", 4.2), order: 0 },
            { data: residPts(tessPurpleRes), ...marker("triangle", 90, 15.5, rgba(PURPLE, 0.2), rgba(PURPLE, 0.2), 3), order: 1 },
            { data: residPts(tessOrangeRes), ...marker("triangle", -90, 15.5, rgba(ORANGE, 0.2), rgba(ORANGE, 0.2), 3), order: 2 },
            { data: residPts(tessGreenRes), ...marker("triangle", 0, 15.5, rgba(GREEN, 0.2), rgba(GREEN, 0.2), 3), order: 3 },
            { data: residPts(aavsoBlueRes), ...marker("triangle", 180, 15.5, rgba(BLUE, 0.2), rgba(BLUE, 0.2), 3), order: 4 },
            { data: residPts(aavsoBlackRes), ...marker("circle", 0, 12, rgba(BLACK, 0.2), rgba(BLACK, 0.2), 3), order: 5 },
          ] as any,
        },
        options: {
          responsive: false,
          animation: false,
          events: [],
          layout: { padding: { top: OVERLAP, right: 30, bottom: 0, left: 0 } },
          plugins: { legend: { display: false }, tooltip: { enabled: false } },
          scales: {
            x: {
              type: "linear",
              min: phaseMin,
              max: phaseMax,
              afterBuildTicks: (s: any) => {
                s.ticks = phaseTicks.map((v) => ({ value: v }));
              },
              afterFit: (s: any) => {
                s.height = 175;
                s.paddingLeft = 0;
                s.paddingRight = 0;
              },
              ticks: { callback: (v: any) => fmtSigned(Number(v), 2), font: { size: TICK }, color: "#000", padding: 15, autoSkip: false, maxRotation: 0 },
              grid: { drawOnChartArea: false, tickColor: "#000", tickWidth: 3.3, tickLength: 14.6 },
              border: { display: false },
              title: { display: true, text: "Phase", color: "#000", font: { size: LABEL, family: FONT, lineHeight: 1.2 }, padding: { top: 0, bottom: 22.6 } },
            },
            y: {
              type: "linear",
              min: residMin,
              max: residMax,
              afterBuildTicks: (s: any) => {
                s.ticks = residTicks.map((v) => ({ value: v }));
              },
              ticks: { callback: (v: any) => fmtSigned(Number(v), 1), font: { size: TICK }, color: "#000", padding: 16, autoSkip: false },
              ...yAxisCommon("Residuals [%]", 39.4),
            },
          },
        } as any,
        plugins: [framePlugin],
      });
    }

    return () => {
      window.removeEventListener("resize", fit);
      if (top) top.destroy();
      if (bot) bot.destroy();
    };
  }, []);

  const topH = SPLIT + OVERLAP;
  const botTop = SPLIT - OVERLAP;
  const botH = FIG_H - botTop;

  return (
    <div ref={wrapRef} style={{ position: "absolute", left: 0, top: 0, width: FIG_W, height: FIG_H, background: "#fff", overflow: "hidden", transformOrigin: "0 0" }}>
      <canvas ref={topRef} width={FIG_W} height={topH} style={{ position: "absolute", left: 0, top: 0, width: FIG_W, height: topH }} />
      <canvas ref={botRef} width={FIG_W} height={botH} style={{ position: "absolute", left: 0, top: botTop, width: FIG_W, height: botH }} />
    </div>
  );
}
